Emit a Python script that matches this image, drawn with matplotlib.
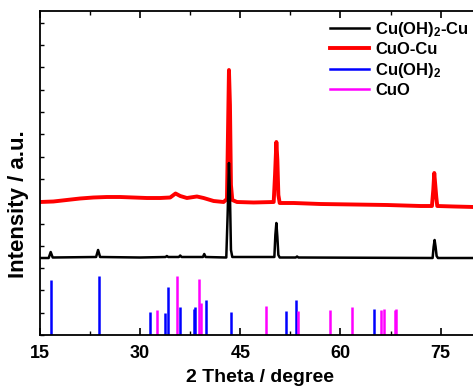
import matplotlib
matplotlib.use("Agg")
import matplotlib.pyplot as plt
from matplotlib.ticker import MultipleLocator

plt.rcParams['font.family'] = ['Liberation Sans', 'DejaVu Sans']
plt.rcParams['font.weight'] = 'bold'
plt.rcParams['mathtext.fontset'] = 'custom'
plt.rcParams['mathtext.rm'] = 'Liberation Sans:bold'
plt.rcParams['mathtext.it'] = 'Liberation Sans:bold'
plt.rcParams['mathtext.bf'] = 'Liberation Sans:bold'

# CuO-Cu measured pattern (2theta, intensity)
cuo_cu_x = [15, 17, 19, 21, 23, 25, 27, 29, 31, 33, 34.5, 35.3, 36, 37, 38.5, 39.5, 41, 42.5,
            43.0, 43.15, 43.3, 43.45, 43.6, 43.8, 44.5, 47, 50.0, 50.2, 50.4, 50.55, 50.7, 50.9,
            53, 57, 62, 67, 72, 73.7, 73.9, 74.05, 74.2, 74.35, 74.5, 77, 80]
cuo_cu_y = [133, 133.5, 135, 136.5, 137.5, 138, 138, 137.5, 137, 137, 137.5, 141.5, 139, 137, 138.5, 137, 134, 133,
            136, 200, 265, 230, 150, 135, 133, 132.5, 133, 160, 193, 175, 140, 132,
            132, 131, 130.5, 130, 129, 129, 145, 162, 150, 138, 129, 128.5, 128]

# Cu(OH)2-Cu measured pattern
cuoh_cu_x = [15, 16.3, 16.6, 16.9, 23.4, 23.7, 24.0, 30, 33.8, 34.0, 34.2, 35.8, 36.0, 36.2,
             39.4, 39.6, 39.8, 42.9, 43.1, 43.3, 43.45, 43.6, 43.8, 50.1, 50.25, 50.4, 50.55, 50.7, 50.9,
             53.3, 53.5, 53.7, 73.8, 73.95, 74.1, 74.25, 74.4, 74.6, 80]
cuoh_cu_y = [77, 77, 83, 77.5, 78, 85, 78, 77.5, 78, 79, 78, 78, 79.5, 78,
             78, 81, 78, 77.5, 120, 172, 140, 85, 78, 78, 100, 112, 98, 80, 77.5,
             77.5, 78.5, 77.5, 77, 88, 95, 88, 79, 77, 77]

# Reference stick patterns
cuoh2_pos = [16.65, 23.83, 31.47, 33.77, 34.1, 35.96, 38.05, 38.25, 39.9, 43.6, 51.83, 53.37, 64.96]
cuoh2_h = [55, 59, 22.7, 22.3, 47.7, 27.7, 26.3, 27.7, 34.7, 23.3, 24.3, 35, 26.3]
cuo_pos = [32.5, 35.5, 38.8, 39.1, 48.83, 53.62, 58.46, 61.75, 66.0, 66.5, 68.14, 68.34]
cuo_h = [24.7, 59, 55.7, 32, 29.3, 24, 25, 27.7, 25, 26, 25, 26]

W, H = 473, 392
fig = plt.figure(figsize=(W / 100, H / 100), dpi=100)
ax = fig.add_axes([40 / W, 1 - 335 / H, (474 - 40) / W, (335 - 11) / H])

l_red, = ax.plot(cuo_cu_x, cuo_cu_y, color='red', lw=2.8, zorder=2)
l_blk, = ax.plot(cuoh_cu_x, cuoh_cu_y, color='black', lw=1.8, zorder=3)
ax.vlines(cuoh2_pos, 0, cuoh2_h, colors='blue', lw=1.8, zorder=2)
ax.vlines(cuo_pos, 0, cuo_h, colors='magenta', lw=1.8, zorder=2)
h_blue, = ax.plot([], [], color='blue', lw=1.8)
h_mag, = ax.plot([], [], color='magenta', lw=1.8)

ax.set_xlim(15, 80)
ax.set_ylim(0, 324)
ax.xaxis.set_major_locator(MultipleLocator(15))
ax.xaxis.set_minor_locator(MultipleLocator(7.5))
ax.yaxis.set_major_locator(MultipleLocator(22.3))
ax.set_yticklabels([])
ax.tick_params(axis='x', which='major', direction='in', length=5, width=1.2, top=True,
               labelsize=13, pad=7.5)
ax.tick_params(axis='x', which='minor', direction='in', length=3, width=1, top=True)
ax.tick_params(axis='y', which='major', direction='in', length=3, width=1, left=True, right=False)
for lab in ax.get_xticklabels():
    lab.set_fontweight('bold')
for s in ['left', 'bottom', 'top']:
    ax.spines[s].set_linewidth(1.3)
ax.spines['right'].set_visible(False)

ax.set_xlabel('2 Theta / degree', fontsize=14, fontweight='bold')
ax.set_ylabel('Intensity / a.u.', fontsize=16, fontweight='bold')
ax.xaxis.set_label_coords((260 - 40) / 434, -(369 - 335) / 324)
ax.yaxis.set_label_coords((29 - 40) / 434, (335 - 204) / 324)

leg = ax.legend([l_blk, l_red, h_blue, h_mag],
                ['Cu(OH)$_2$-Cu', 'CuO-Cu', 'Cu(OH)$_2$', 'CuO'],
                loc='upper right', bbox_to_anchor=((469 - 40) / 434, (335 - 20) / 324),
                frameon=False, fontsize=12, borderpad=0, borderaxespad=0,
                handlelength=2.35, handletextpad=0.38, labelspacing=0.2)
for t in leg.get_texts():
    t.set_fontweight('bold')

fig.savefig('out.png', dpi=100)
